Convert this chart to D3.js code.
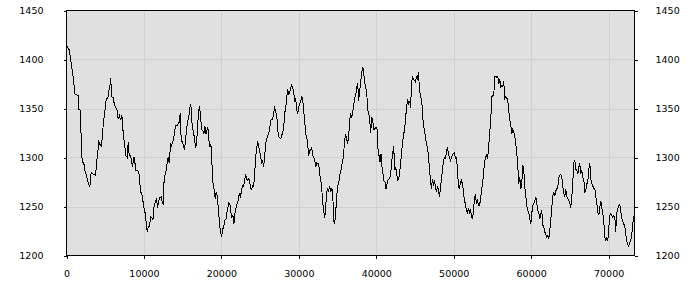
<!DOCTYPE html>
<html>
<head>
<meta charset="utf-8">
<script src="https://cdn.jsdelivr.net/npm/d3@7"></script>
<style>
  html, body { margin: 0; padding: 0; background: #ffffff; }
  svg { display: block; }
  .tick text { font-family: "DejaVu Sans", sans-serif; font-size: 9.5px; fill: #000; }
</style>
</head>
<body>
<svg id="chart" width="700" height="300"></svg>
<script>
// ---- data ----
const xTickValues = [0, 10000, 20000, 30000, 40000, 50000, 60000, 70000];
const yTickValues = [1200, 1250, 1300, 1350, 1400, 1450];
const xExtent = [0, 73343];
const yExtent = [1200, 1450];

const xs = [
0,86,345,517,775,948,1034,1292,1507,1594,1809,1938,2110,2240,2369,2584,2757,3015,3187,3446,3747,3962,4178,4393,4522,4695,4824,4996,5125,5384,5470,5599,5685,5771,5857,6030,6202,6374,6547,6676,6848,6977,7150,7279,7408,7537,7666,7839,7968,8097,8269,8399,8528,8657,8786,8916,9131,9346,9562,9734,9863,9992,10165,10294,10423,10552,10725,10854,10983,11155,11284,11500,11629,11758,11930,12059,12232,12361,12490,12619,12791,13007,13136,13265,13438,13567,13739,13868,13997,14126,14299,14428,14557,14687,14816,14945,15074,15246,15376,15505,15677,15806,15935,16065,16151,16323,16496,16668,16797,16926,17055,17185,17314,17443,17615,17744,17874,18003,
18260,18347,18519,18648,18777,18906,19079,19208,19337,19466,19596,19725,19854,20026,20156,20328,20457,20586,20715,20844,20974,21103,21232,21361,21490,21620,21749,21878,22050,22180,22309,22481,22610,22740,22869,22998,23127,23256,23386,23515,23644,23773,23902,24032,24161,24290,24419,24549,24678,24807,24936,25065,25195,25324,25453,25582,25712,25841,25970,26099,26228,26358,26487,26616,26745,26874,27004,27133,27262,27391,27520,27650,27779,27908,28037,28166,28296,28425,28554,28683,28813,28942,29071,29200,29329,29459,29588,29717,29846,29975,30105,30234,30363,30492,30622,30751,30880,31009,31138,31268,31397,31526,31655,31784,31914,32043,32172,32301,32430,32560,32689,32818,32947,33077,33206,33335,33464,33593,33723,33852,33981,34110,34239,34369,34498,34627,34756,34885,35015,35144,35273,35402,35531,35661,35790,35919,36048,36178,36307,36436,36565,
36693,36822,36951,37080,37209,37339,37468,37597,37726,37855,37985,38114,38200,38329,38458,38588,38760,38889,39018,39148,39277,39406,39535,39664,39794,39966,40095,40181,40354,40483,40612,40741,40870,41000,41129,41258,41387,41516,41646,41775,41904,42033,42162,42249,42378,42507,42636,42765,42895,43024,43153,43282,43411,43541,43670,43799,43928,44058,44187,44316,44445,44531,44660,44790,44919,45048,45177,45306,45436,45565,45694,45823,45953,46082,46211,46340,46469,46599,46728,46857,46986,47115,47245,47374,47503,47632,47761,47891,48020,48149,48278,48408,48537,48666,48795,48924,49054,49183,49312,49441,49570,49700,49829,49958,50087,50216,50346,50475,50604,50733,50863,50992,51121,51250,51379,51509,51638,51767,51896,52025,52155,52284,52413,52542,52671,52801,52930,53059,53188,53317,53447,53576,53705,53834,53963,54093,54222,54351,54480,54610,54739,
54781,54910,55040,55169,55298,55427,55556,55686,55815,55944,56073,56202,56332,56461,56590,56719,56849,56978,57107,57236,57365,57495,57624,57753,57882,58011,58141,58270,58399,58528,58657,58787,58916,59045,59174,59303,59433,59562,59691,59820,59950,60079,60208,60337,60466,60596,60725,60854,60983,61112,61242,61371,61500,61629,61758,61888,62017,62146,62275,62404,62534,62663,62792,62921,63051,63180,63309,63438,63567,63697,63826,63955,64084,64213,64343,64472,64601,64730,64859,64989,65118,65247,65376,65506,65635,65764,65893,66022,66152,66281,66410,66539,66668,66798,66927,67056,67185,67314,67444,67573,67702,67831,67960,68090,68219,68348,68477,68606,68736,68865,68994,69123,69252,69382,69511,69640,69769,69899,70028,70157,70286,70415,70545,70674,70803,70932,71018,71147,71277,71406,71535,71664,71793,71923,72052,72181,72310,72439,72568,72698,72827,72956,73085,73214,73343
];

const ys = [
1418,1413,1410,1401,1387,1377,1365,1364,1363,1349,1348,1302,1295,1294,1287,1282,1275,1270,1285,1283,1282,1300,1316,1312,1311,1329,1339,1350,1359,1362,1368,1372,1381,1372,1362,1361,1353,1351,1348,1339,1343,1338,1343,1329,1319,1311,1302,1300,1316,1302,1302,1297,1290,1300,1300,1287,1287,1285,1265,1263,1256,1249,1243,1233,1224,1229,1230,1240,1239,1236,1249,1256,1258,1249,1256,1259,1260,1254,1253,1280,1283,1295,1300,1294,1314,1312,1316,1321,1329,1333,1333,1335,1336,1345,1317,1316,1313,1308,1319,1329,1338,1343,1351,1354,1338,1329,1321,1310,1315,1331,1348,1352,1341,1329,1327,1324,1332,1324,
1331,1319,1311,1314,1294,1275,1266,1258,1265,1261,1248,1236,1226,1219,1226,1231,1236,1237,1244,1249,1254,1252,1244,1239,1241,1232,1243,1248,1254,1256,1263,1260,1268,1271,1270,1277,1283,1278,1277,1278,1277,1268,1267,1271,1270,1282,1300,1309,1317,1311,1307,1300,1295,1297,1290,1300,1314,1319,1322,1324,1329,1338,1339,1339,1345,1352,1346,1345,1329,1322,1320,1319,1322,1326,1329,1345,1350,1360,1370,1365,1366,1371,1374,1372,1367,1358,1360,1350,1344,1351,1355,1356,1363,1360,1348,1338,1324,1322,1314,1302,1307,1307,1311,1303,1300,1299,1290,1295,1294,1294,1283,1278,1270,1254,1246,1238,1249,1265,1268,1266,1271,1265,1268,1266,1235,1232,1243,1260,1271,1273,1282,1285,1292,1295,1305,1317,1324,1319,1314,1321,1338,
1345,1340,1346,1353,1361,1363,1372,1376,1358,1368,1377,1385,1392,1391,1380,1372,1368,1348,1346,1339,1325,1341,1338,1329,1329,1331,1329,1311,1302,1295,1304,1290,1283,1276,1275,1268,1273,1277,1278,1280,1287,1299,1307,1312,1287,1290,1283,1277,1278,1285,1294,1307,1316,1324,1329,1341,1353,1358,1355,1358,1351,1373,1383,1380,1379,1377,1382,1380,1387,1372,1363,1360,1350,1331,1329,1321,1314,1311,1302,1290,1278,1268,1278,1271,1277,1270,1265,1270,1268,1260,1268,1277,1287,1295,1300,1299,1304,1311,1304,1300,1297,1300,1302,1304,1305,1299,1300,1290,1271,1268,1275,1277,1273,1266,1256,1253,1246,1244,1248,1244,1247,1241,1237,1244,1258,1263,1253,1258,1251,1251,1256,1266,1273,1282,1294,1300,1302,1299,1307,1322,1334,
1338,1362,1363,1363,1383,1383,1382,1383,1375,1380,1372,1373,1372,1378,1360,1362,1361,1358,1348,1339,1333,1324,1329,1326,1322,1314,1305,1292,1273,1280,1268,1273,1292,1287,1270,1261,1251,1246,1244,1237,1232,1243,1251,1253,1256,1260,1253,1246,1244,1237,1243,1246,1231,1229,1224,1222,1219,1220,1217,1226,1236,1249,1261,1264,1261,1266,1268,1270,1280,1282,1283,1280,1271,1263,1260,1268,1260,1258,1256,1254,1249,1260,1275,1295,1297,1288,1287,1283,1290,1294,1283,1287,1280,1277,1265,1266,1273,1275,1288,1294,1278,1273,1271,1268,1268,1260,1254,1244,1241,1249,1256,1249,1243,1234,1219,1215,1219,1215,1229,1241,1243,1241,1239,1241,1239,1224,1243,1246,1251,1252,1249,1239,1236,1232,1231,1226,1215,1212,1210,1212,1215,1219,1229,1239,1237
];

// ---- layout ----
const margin = { left: 66, top: 10, right: 66, bottom: 45 };
const W = 700, H = 300;
const iw = 568, ih = 245;

const svg = d3.select("#chart");
const g = svg.append("g").attr("transform", `translate(${margin.left},${margin.top})`);

const x = d3.scaleLinear().domain(xExtent).range([0.5, iw + 0.5]);
const y = d3.scaleLinear().domain(yExtent).range([ih + 0.5, 0.5]);

// background
g.append("rect").attr("x", 0.5).attr("y", 0.5).attr("width", iw).attr("height", ih).attr("fill", "#e0e0e0");

// grid
g.append("g").selectAll("line.gx").data(xTickValues.filter(v => v > xExtent[0] && v < xExtent[1]))
  .join("line").attr("x1", d => Math.round(x(d)) + 0.5).attr("x2", d => Math.round(x(d)) + 0.5)
  .attr("y1", 0.5).attr("y2", ih + 0.5).attr("stroke", "#d0d0d0").attr("stroke-width", 1)
  .attr("shape-rendering", "crispEdges");
g.append("g").selectAll("line.gy").data(yTickValues.filter(v => v > yExtent[0] && v < yExtent[1]))
  .join("line").attr("y1", d => Math.round(y(d)) + 0.5).attr("y2", d => Math.round(y(d)) + 0.5)
  .attr("x1", 0.5).attr("x2", iw + 0.5).attr("stroke", "#d0d0d0").attr("stroke-width", 1)
  .attr("shape-rendering", "crispEdges");

// line
const pts = xs.map((v, i) => [v, ys[i]]);
const line = d3.line().x(d => x(d[0])).y(d => y(d[1]));
g.append("path").datum(pts).attr("d", line).attr("fill", "none")
  .attr("stroke", "#000").attr("stroke-width", 1).attr("stroke-linejoin", "miter")
  .attr("shape-rendering", "crispEdges");

// frame
g.append("rect").attr("x", 0.5).attr("y", 0.5).attr("width", iw).attr("height", ih)
  .attr("fill", "none").attr("stroke", "#000").attr("stroke-width", 1)
  .attr("shape-rendering", "crispEdges");

// axes
const fmt = d3.format("d");
const ax = g.append("g").attr("transform", `translate(0,${ih + 0.5})`)
  .call(d3.axisBottom(x).tickValues(xTickValues).tickFormat(fmt).tickSizeInner(3).tickSizeOuter(0).tickPadding(12));
const ayl = g.append("g").attr("transform", `translate(0.5,0)`)
  .call(d3.axisLeft(y).tickValues(yTickValues).tickFormat(fmt).tickSizeInner(3).tickSizeOuter(0).tickPadding(20));
const ayr = g.append("g").attr("transform", `translate(${iw + 0.5},0)`)
  .call(d3.axisRight(y).tickValues(yTickValues).tickFormat(fmt).tickSizeInner(3).tickSizeOuter(0).tickPadding(18));
[ax, ayl, ayr].forEach(a => {
  a.select(".domain").remove();
  a.selectAll(".tick line").attr("stroke", "#000").attr("shape-rendering", "crispEdges");
  a.selectAll(".tick text").attr("fill", "#000");
});
</script>
</body>
</html>
